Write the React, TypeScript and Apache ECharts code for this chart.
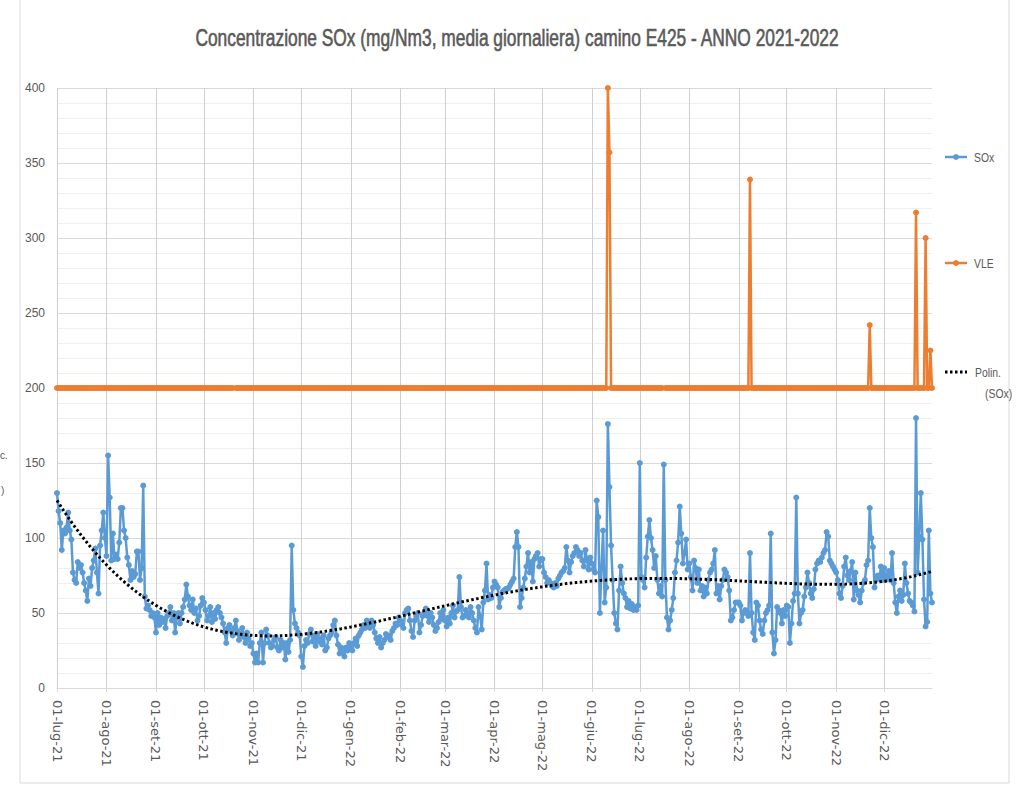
import React, { useEffect, useRef } from "react";
import * as echarts from "echarts";

const TITLE = "Concentrazione SOx (mg/Nm3, media giornaliera) camino E425 - ANNO 2021-2022";

// Daily SOx (mg/Nm3) per month
const soxLug21 = [130, 118, 110, 92, 105, 103, 107, 117, 105, 99, 77, 72, 70, 84, 80, 82, 77, 70, 65, 58, 73, 68, 80, 85, 93, 77, 63, 95, 105, 117, 100];
const soxAgo21 = [88, 155, 127, 85, 103, 86, 89, 86, 97, 120, 120, 105, 100, 87, 82, 72, 78, 74, 76, 91, 91, 72, 80, 135, 61, 53, 55, 52, 48, 50, 47];
const soxSet21 = [37, 50, 42, 47, 44, 46, 40, 48, 50, 54, 45, 50, 37, 47, 50, 43, 50, 54, 59, 69, 61, 55, 52, 59, 50, 53, 45, 48, 55, 60];
const soxOtt21 = [57, 52, 45, 48, 54, 44, 50, 46, 52, 54, 50, 47, 43, 37, 30, 40, 42, 38, 35, 40, 45, 38, 32, 36, 40, 34, 30, 37, 33, 28, 30];
const soxNov21 = [23, 17, 23, 17, 30, 37, 17, 30, 39, 35, 30, 27, 28, 32, 34, 27, 25, 32, 27, 30, 19, 30, 24, 32, 95, 52, 43, 40, 37, 35];
const soxDic21 = [21, 14, 28, 32, 30, 36, 39, 31, 35, 28, 36, 31, 33, 29, 35, 25, 27, 33, 35, 37, 42, 45, 35, 29, 23, 27, 24, 21, 27, 25, 30];
const soxGen22 = [27, 25, 30, 33, 28, 35, 37, 39, 42, 40, 45, 42, 40, 45, 42, 37, 33, 30, 34, 27, 30, 32, 36, 34, 35, 32, 38, 40, 43, 42, 47];
const soxFeb22 = [45, 42, 40, 50, 52, 53, 45, 38, 34, 45, 48, 50, 37, 42, 48, 50, 53, 48, 44, 50, 47, 42, 38, 40, 44, 50, 46, 52];
const soxMar22 = [45, 41, 47, 43, 50, 55, 47, 51, 52, 74, 54, 47, 48, 52, 50, 47, 54, 50, 45, 40, 37, 54, 48, 39, 57, 65, 83, 59, 62, 60, 67];
const soxApr22 = [71, 69, 67, 54, 60, 64, 65, 66, 66, 67, 69, 71, 73, 94, 104, 94, 54, 60, 67, 73, 81, 90, 77, 84, 71, 86, 88, 90, 81, 86];
const soxMag22 = [86, 77, 74, 70, 72, 70, 68, 67, 70, 68, 73, 75, 77, 78, 80, 94, 85, 77, 84, 88, 90, 94, 92, 88, 90, 85, 81, 92, 85, 79, 87];
const soxGiu22 = [83, 79, 77, 125, 114, 50, 80, 105, 57, 67, 176, 134, 95, 72, 50, 43, 39, 65, 81, 70, 63, 60, 54, 58, 53, 56, 52, 54, 52, 55];
const soxLug22 = [150, 74, 72, 67, 87, 101, 112, 100, 92, 80, 88, 72, 63, 68, 61, 149, 72, 47, 39, 45, 52, 60, 77, 85, 97, 121, 103, 83, 90, 99, 79];
const soxAgo22 = [83, 74, 65, 85, 80, 70, 79, 65, 68, 61, 67, 63, 72, 77, 79, 83, 92, 63, 68, 59, 68, 72, 79, 77, 74, 65, 45, 47, 52, 57, 57];
const soxSet22 = [57, 55, 45, 50, 52, 50, 48, 90, 50, 37, 32, 57, 55, 45, 39, 36, 45, 50, 52, 55, 103, 37, 23, 32, 54, 52, 50, 43, 52, 48];
const soxOtt22 = [55, 54, 30, 43, 58, 63, 127, 63, 43, 50, 52, 61, 67, 77, 70, 63, 60, 66, 79, 83, 85, 84, 87, 90, 92, 104, 101, 85, 83, 81, 79];
const soxNov22 = [77, 72, 63, 60, 68, 81, 87, 75, 72, 78, 84, 59, 77, 65, 62, 57, 65, 70, 72, 82, 85, 120, 100, 94, 67, 72, 75, 73, 81, 72];
const soxDic22 = [80, 72, 75, 78, 72, 90, 70, 57, 50, 61, 65, 58, 62, 83, 70, 63, 58, 57, 55, 51, 180, 77, 101, 130, 99, 59, 41, 44, 105, 63, 57];

const monthBlocks: [string, number[]][] = [
  ["lug-21", soxLug21], ["ago-21", soxAgo21], ["set-21", soxSet21], ["ott-21", soxOtt21],
  ["nov-21", soxNov21], ["dic-21", soxDic21], ["gen-22", soxGen22], ["feb-22", soxFeb22],
  ["mar-22", soxMar22], ["apr-22", soxApr22], ["mag-22", soxMag22], ["giu-22", soxGiu22],
  ["lug-22", soxLug22], ["ago-22", soxAgo22], ["set-22", soxSet22], ["ott-22", soxOtt22],
  ["nov-22", soxNov22], ["dic-22", soxDic22],
];

// VLE (limit value): 200 every day except these
const VLE_BASE = 200;
const vleSpikes: [string, number][] = [
  ["11-giu-22", 400], ["12-giu-22", 357], ["08-set-22", 339], ["22-nov-22", 242],
  ["21-dic-22", 317], ["27-dic-22", 300], ["30-dic-22", 225],
];
const vleMissing = ["20-ott-21", "16-lug-22"];

const Y_MIN = 0;
const Y_MAX = 400;
const Y_STEP = 50;
const TREND_ORDER = 4;

const categories: string[] = monthBlocks.flatMap(([m, vals]) =>
  vals.map((_, i) => `${String(i + 1).padStart(2, "0")}-${m}`)
);
const soxData: number[] = monthBlocks.flatMap(([, vals]) => vals);
const spikeMap = new Map(vleSpikes);
const vleData = categories.map((c) =>
  vleMissing.includes(c) ? null : spikeMap.has(c) ? spikeMap.get(c)! : VLE_BASE
);

// polynomial trendline (least squares) like Excel's "Polin."
function polyFit(ys: number[], deg: number): number[] {
  const n = ys.length;
  const ts = ys.map((_, i) => (2 * i) / (n - 1) - 1);
  const m = deg + 1;
  const A: number[][] = Array.from({ length: m }, () => new Array(m + 1).fill(0));
  for (let i = 0; i < n; i++) {
    const pw: number[] = [1];
    for (let k = 1; k <= 2 * deg; k++) pw.push(pw[k - 1] * ts[i]);
    for (let r = 0; r < m; r++) {
      for (let c = 0; c < m; c++) A[r][c] += pw[r + c];
      A[r][m] += pw[r] * ys[i];
    }
  }
  for (let col = 0; col < m; col++) {
    let piv = col;
    for (let r = col + 1; r < m; r++) if (Math.abs(A[r][col]) > Math.abs(A[piv][col])) piv = r;
    [A[col], A[piv]] = [A[piv], A[col]];
    for (let r = 0; r < m; r++) {
      if (r === col) continue;
      const f = A[r][col] / A[col][col];
      for (let c = col; c <= m; c++) A[r][c] -= f * A[col][c];
    }
  }
  const coef = A.map((row, i) => row[m] / row[i]);
  return ts.map((t) => {
    let v = 0, p = 1;
    for (let k = 0; k < m; k++) { v += coef[k] * p; p *= t; }
    return Math.round(v * 100) / 100;
  });
}
const trendData = polyFit(soxData, TREND_ORDER);

const SANS = "'Liberation Sans', Arial, sans-serif";
const GREY = "#595959";
const BLUE = "#5b9bd5";
const ORANGE = "#ed7d31";

const isMonthStart = (_i: number, v: string) => v.startsWith("01-");

function textWidth(text: string, font: string): number {
  const c = document.createElement("canvas").getContext("2d");
  if (!c) return text.length * 10;
  c.font = font;
  return c.measureText(text).width;
}

export default function App() {
  const ref = useRef<HTMLDivElement>(null);
  useEffect(() => {
    if (!ref.current) return;
    const chart = echarts.init(ref.current, undefined, { renderer: "svg" });
    const titleFont = `23px ${SANS}`;
    const titleScale = 645 / textWidth(TITLE, titleFont);
    const legFont = `13px ${SANS}`;
    const legText = (text: string, x: number, y: number) => ({
      type: "text",
      x,
      y,
      scaleX: 0.8,
      style: { text, fill: GREY, font: legFont, textVerticalAlign: "middle" },
    });
    chart.setOption({
      animation: false,
      backgroundColor: "#ffffff",
      grid: { left: 57, top: 88, width: 875, height: 600, containLabel: false },
      xAxis: {
        type: "category",
        data: categories,
        boundaryGap: false,
        axisLine: { lineStyle: { color: "#d9d9d9", width: 1 } },
        axisTick: { show: true, interval: isMonthStart, length: 4, lineStyle: { color: "#d9d9d9" } },
        axisLabel: {
          interval: isMonthStart,
          rotate: -90,
          margin: 12,
          color: GREY,
          fontSize: 13,
          fontFamily: "'DejaVu Sans', sans-serif",
        },
        splitLine: { show: true, interval: isMonthStart, lineStyle: { color: "#cfcfcf", width: 1 } },
      },
      yAxis: {
        type: "value",
        min: Y_MIN,
        max: Y_MAX,
        interval: Y_STEP,
        axisLine: { show: false },
        axisTick: { show: false },
        axisLabel: { color: GREY, fontSize: 12, margin: 12, fontFamily: SANS },
        splitLine: { show: true, lineStyle: { color: "#d9d9d9", width: 1 } },
        minorTick: { show: false, splitNumber: 5 },
        minorSplitLine: { show: true, lineStyle: { color: "#efefef", width: 1 } },
      },
      series: [
        {
          name: "SOx",
          type: "line",
          data: soxData,
          symbol: "circle",
          symbolSize: 6,
          showAllSymbol: true,
          lineStyle: { color: BLUE, width: 2.5 },
          itemStyle: { color: BLUE },
          silent: true,
          z: 2,
        },
        {
          name: "VLE",
          type: "line",
          data: vleData,
          symbol: "circle",
          symbolSize: 6,
          showAllSymbol: true,
          connectNulls: false,
          lineStyle: { color: ORANGE, width: 2.5 },
          itemStyle: { color: ORANGE },
          silent: true,
          z: 3,
        },
        {
          name: "Polin. (SOx)",
          type: "line",
          data: trendData,
          symbol: "none",
          lineStyle: { color: "#000000", width: 3, type: [2.5, 2.5] },
          silent: true,
          z: 4,
        },
      ],
      graphic: [
        {
          type: "rect",
          shape: { x: 20, y: -2, width: 989, height: 785 },
          style: { fill: "none", stroke: "#d9d9d9", lineWidth: 1 },
          silent: true,
          z: -10,
        },
        {
          type: "text",
          x: 517,
          y: 38,
          scaleX: titleScale,
          style: {
            text: TITLE,
            fill: GREY,
            stroke: GREY,
            lineWidth: 0.6,
            font: titleFont,
            textAlign: "center",
            textVerticalAlign: "middle",
          },
        },
        // legend
        { type: "line", shape: { x1: 945, y1: 157, x2: 967, y2: 157 }, style: { stroke: BLUE, lineWidth: 2.5 } },
        { type: "circle", shape: { cx: 956, cy: 157, r: 3 }, style: { fill: BLUE } },
        legText("SOx", 974, 157),
        { type: "line", shape: { x1: 945, y1: 263, x2: 967, y2: 263 }, style: { stroke: ORANGE, lineWidth: 2.5 } },
        { type: "circle", shape: { cx: 956, cy: 263, r: 3 }, style: { fill: ORANGE } },
        legText("VLE", 974, 263),
        { type: "line", shape: { x1: 945, y1: 372, x2: 967, y2: 372 }, style: { stroke: "#000", lineWidth: 3, lineDash: [2.5, 2.5] } },
        legText("Polin.", 975, 372),
        legText("(SOx)", 985, 393),
        // clipped fragments at the left edge
        { type: "text", x: 0, y: 455, style: { text: "c.", fill: GREY, font: `10px ${SANS}`, textVerticalAlign: "middle" } },
        { type: "text", x: 1, y: 490, style: { text: ")", fill: GREY, font: `10px ${SANS}`, textVerticalAlign: "middle" } },
      ],
    });
    return () => chart.dispose();
  }, []);
  return (
    <div
      ref={ref}
      style={{ position: "fixed", left: 0, top: 0, width: 1024, height: 787, background: "#fff" }}
    />
  );
}
